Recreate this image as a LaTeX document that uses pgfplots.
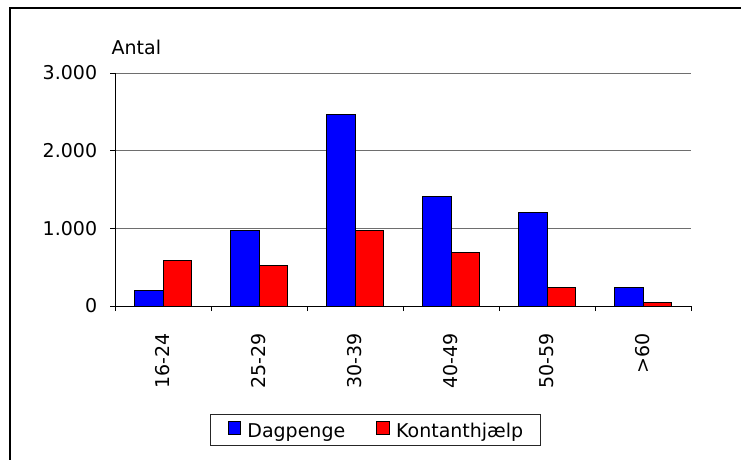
\documentclass[border=0pt]{standalone}
\usepackage{fontspec}
\setmainfont{DejaVu Sans}
\usepackage{pgfplots}
\pgfplotsset{compat=1.18}
\definecolor{gridgray}{RGB}{110,110,110}
\begin{document}
\begin{tikzpicture}[x=1pt,y=1pt]
\useasboundingbox (0,0) rectangle (741,459);
\draw[line width=2pt] (10,-5) -- (10,451) -- (746,451);
\node[anchor=base west, inner sep=0pt, font=\fontsize{19}{22}\selectfont] at (111.5,404) {Antal};
\begin{axis}[
  at={(115pt,153pt)}, anchor=south west,
  scale only axis, width=576pt, height=233pt,
  xmin=-0.5, xmax=5.5, ymin=0, ymax=3000,
  ybar=0pt, bar width=28.5pt,
  axis x line*=bottom, axis y line*=left,
  axis line style={-, line width=0.9pt, black},
  tick align=outside, major tick length=5pt, minor tick length=5pt,
  tick style={line width=0.9pt, black},
  xtick={0,...,5},
  xticklabels={16-24,25-29,30-39,40-49,50-59,{>60}},
  minor xtick={-0.5,0.5,1.5,2.5,3.5,4.5,5.5},
  major x tick style={draw=none},
  ytick={0,1000,2000,3000},
  yticklabels={0,1.000,2.000,3.000},
  ymajorgrids, major grid style={gridgray, line width=0.9pt},
  yticklabel style={font=\fontsize{19}{22}\selectfont, inner sep=0pt, xshift=-12.7pt},
  xticklabel style={font=\fontsize{19}{22}\selectfont, rotate=90, anchor=east, inner sep=0pt, xshift=-22pt},
  legend columns=2,
  legend style={at={(axis description cs:0.452,-0.532)}, anchor=center,
    draw=black!85, line width=0.8pt, font=\fontsize{19}{22}\selectfont,
    inner xsep=17pt, inner ysep=6.5pt,
    nodes={inner sep=0pt},
    /tikz/every even column/.append style={column sep=31pt}},
  legend image code/.code={\path[draw=none, fill=none] (0pt,-3pt) rectangle (19.5pt,9.5pt);
    \draw[#1, draw=black, line width=0.7pt] (0pt,-3pt) rectangle (12.5pt,9.5pt);},
]
\addplot[fill={rgb,255:red,0;green,0;blue,255}, draw=black, line width=0.9pt]
  coordinates {(0,195) (1,970) (2,2470) (3,1415) (4,1200) (5,240)};
\addlegendentry{Dagpenge}
\addplot[fill={rgb,255:red,255;green,0;blue,0}, draw=black, line width=0.9pt]
  coordinates {(0,590) (1,520) (2,970) (3,690) (4,240) (5,50)};
\addlegendentry{Kontanthjælp}
\end{axis}
\end{tikzpicture}
\end{document}
